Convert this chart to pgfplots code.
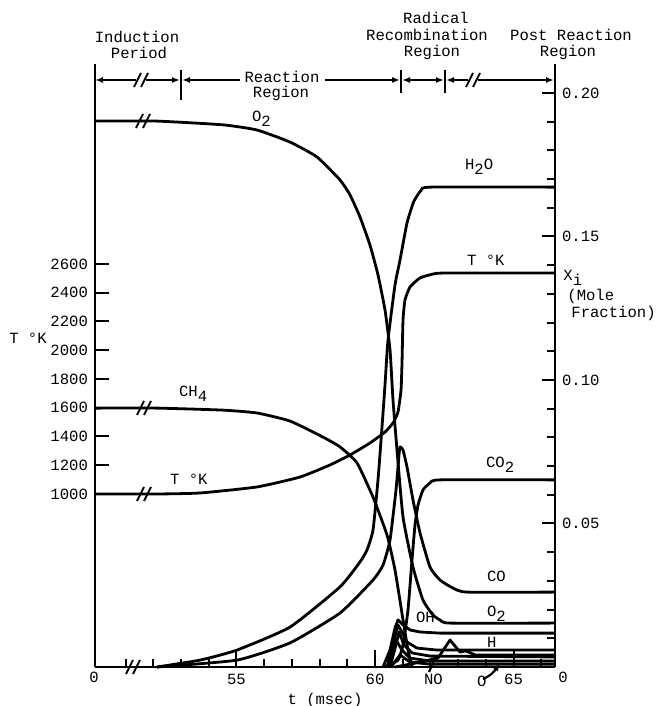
\documentclass[border=0pt]{standalone}
\usepackage{pgfplots}
\pgfplotsset{compat=1.18}
\usepackage{fontspec}
\setmainfont{Liberation Mono}
\usetikzlibrary{arrows.meta}
\newcommand{\lf}{\fontsize{7.8}{9}\selectfont}
\newcommand{\sub}[1]{\raisebox{-0.6ex}{#1}}
\begin{document}
\begin{tikzpicture}
\useasboundingbox (-47.5pt,-19.5pt) rectangle (282.5pt,333.5pt);
\pgfplotsset{
  common/.style={at={(0pt,0pt)}, anchor=south west, scale only axis,
    width=230pt, height=301.5pt, xmin=49.892, xmax=66.498, clip=false,
    axis line style={-, line width=1pt}, tick style={line width=1pt, black},
    tick align=inside, tick label style={font=\lf},
    /pgf/number format/assume math mode=true},
  curve/.style={black, line width=1.4pt, no marks, line join=round}
}
% time axis
\begin{axis}[common, ymin=0, ymax=1, axis x line*=bottom, axis y line=none,
  xtick={55,60,65}, minor xtick={51,52,...,66},
  major tick length=8.5pt, minor tick length=4pt]
\end{axis}
% temperature axis
\begin{axis}[common, ymin=-203.5, ymax=3991.3, axis y line*=left, axis x line=none,
  ytick={1000,1200,...,2600}, major tick length=7pt,
  yticklabel style={/pgf/number format/1000 sep={}}]
\addplot[curve, smooth, tension=0.3] coordinates {
(49.892,1000) (52.130,1000) (53.682,1007) (55.740,1049) (57.292,1118)
(58.375,1202) (59.097,1271) (59.819,1355) (60.361,1431) (60.650,1494)
(60.830,1570) (60.939,1723) (60.975,1911) (61.011,2210) (61.083,2350)
(61.264,2440) (61.625,2503) (62.094,2530) (62.527,2537) (66.498,2537)};
\end{axis}
% mole fraction axis
\begin{axis}[common, ymin=0, ymax=0.2101, axis y line*=right, axis x line=none,
  ytick={0.05,0.10,0.15,0.20},
  minor ytick={0.01,0.02,0.03,0.04,0.06,0.07,0.08,0.09,0.11,0.12,0.13,0.14,0.16,0.17,0.18,0.19},
  major tick length=6.5pt, minor tick length=4pt,
  yticklabel style={/pgf/number format/.cd, fixed, fixed zerofill, precision=2}]
% O2
\addplot[curve, smooth, tension=0.3] coordinates {
(49.892,0.1902) (52.130,0.1902) (54.513,0.1889) (55.740,0.1871) (56.931,0.1829)
(57.906,0.1777) (58.736,0.1697) (59.097,0.1645) (59.458,0.1568) (59.819,0.1470)
(60.108,0.1366) (60.361,0.1244) (60.542,0.1105) (60.650,0.0930) (60.794,0.0756)
(61.011,0.0523) (61.372,0.0348) (61.733,0.0233) (62.094,0.0181) (62.347,0.0164)
(62.708,0.0153) (66.498,0.0153)};
% CH4
\addplot[curve, smooth, tension=0.3] coordinates {
(49.892,0.0902) (52.130,0.0902) (54.513,0.0895) (55.740,0.0885) (56.931,0.0857)
(58.123,0.0801) (58.736,0.0767) (59.350,0.0711) (59.928,0.0592) (60.433,0.0460)
(60.722,0.0338) (61.011,0.0164) (61.191,0.0059) (61.336,0.0)};
% H2O
\addplot[curve, smooth, tension=0.3] coordinates {
(52.130,0.0) (53.682,0.0024) (55.018,0.0059) (56.931,0.0139) (58.736,0.0279)
(59.458,0.0366) (59.711,0.0408) (59.928,0.0477) (60.108,0.0652) (60.253,0.0836)
(60.361,0.0983) (60.469,0.1139) (60.722,0.1331) (60.903,0.1418) (61.155,0.1547)
(61.400,0.1622) (61.661,0.1660) (62.000,0.1672) (66.498,0.1672)};
% CO
\addplot[curve, smooth, tension=0.3] coordinates {
(52.130,0.0) (55.018,0.0024) (56.931,0.0084) (58.736,0.0188) (59.928,0.0303)
(60.289,0.0355) (60.542,0.0443) (60.758,0.0617) (60.866,0.0739) (60.903,0.0767)
(61.011,0.0756) (61.155,0.0697) (61.372,0.0582) (61.625,0.0467) (61.986,0.0348)
(62.347,0.0303) (62.816,0.0275) (63.321,0.0261) (66.498,0.0261)};
% CO2
\addplot[curve, smooth, tension=0.3] coordinates {
(60.361,0.0) (60.830,0.0024) (61.011,0.0077) (61.191,0.0199) (61.336,0.0373)
(61.444,0.0495) (61.552,0.0564) (61.733,0.0617) (61.986,0.0641) (62.347,0.0652)
(66.498,0.0652)};
% OH
\addplot[curve] coordinates {
(60.289,0.0) (60.542,0.0059) (60.722,0.0136) (60.830,0.0164) (60.975,0.0150)
(61.264,0.0129) (61.625,0.0122) (62.347,0.0118) (66.498,0.0118)};
% H
\addplot[curve] coordinates {
(60.433,0.0) (60.686,0.0094) (60.830,0.0146) (60.975,0.0122) (61.155,0.0087)
(61.516,0.0066) (62.238,0.0059) (66.498,0.0059)};
% O
\addplot[curve] coordinates {
(60.542,0.0) (60.758,0.0077) (60.866,0.0122) (61.047,0.0077) (61.336,0.0049)
(61.986,0.0038) (66.498,0.0035)};
% NO
\addplot[curve] coordinates {
(60.722,0.0) (61.264,0.0010) (61.805,0.0021) (62.274,0.0031) (62.708,0.0094)
(63.069,0.0052) (63.285,0.0056) (63.610,0.0042) (66.498,0.0042)};
% minor species
\addplot[curve] coordinates {
(60.469,0.0) (60.758,0.0094) (60.975,0.0059) (61.264,0.0031) (61.986,0.0021) (66.498,0.0021)};
\addplot[curve] coordinates {
(60.578,0.0) (60.903,0.0042) (61.264,0.0017) (61.986,0.0010) (66.498,0.0010)};
\end{axis}
% annotations in reference pixel units
\begin{scope}[x=0.5pt, y=-0.5pt, shift={(-47.5pt,333.5pt)}, font=\lf]
\tikzset{arr/.style={line width=1pt, arrows={-Latex[length=4pt,width=3pt]}},
  brk/.style={line width=0.9pt}}
% region bracket
\draw[line width=1pt, {Latex[length=4pt,width=3pt]}-] (95,80) -- (136,80);
\draw[brk] (134,87) -- (141,73) (141,87) -- (148,73);
\draw[arr] (146,80) -- (180,80);
\draw[line width=1pt] (181,70) -- (181,100);
\draw[line width=1pt, {Latex[length=4pt,width=3pt]}-] (182,80) -- (240,80);
\draw[arr] (325,80) -- (400,80);
\draw[line width=1pt] (401,70) -- (401,93);
\draw[line width=1pt, {Latex[length=4pt,width=3pt]}-{Latex[length=4pt,width=3pt]}] (402,80) -- (444,80);
\draw[line width=1pt] (445,70) -- (445,93);
\draw[line width=1pt, {Latex[length=4pt,width=3pt]}-] (446,80) -- (468,80);
\draw[brk] (466,87) -- (473,73) (473,87) -- (480,73);
\draw[arr] (478,80) -- (554,80);
% region names
\node at (137,37) {Induction};
\node at (139,53) {Period};
\node at (282,77) {Reaction};
\node at (281,93) {Region};
\node at (436,18) {Radical};
\node at (427,35) {Recombination};
\node at (432,52) {Region};
\node at (571,35) {Post Reaction};
\node at (568,52) {Region};
% axis titles
\node at (28,338) {T °K};
\node[anchor=base west, inner sep=0pt] at (563,281) {X\sub{i}};
\node[anchor=base west, inner sep=0pt] at (567,301) {(Mole};
\node[anchor=base west, inner sep=0pt] at (571,318) {Fraction)};
\node at (325,700) {t (msec)};
\node at (94,677) {0};
\node at (563,677) {0};
% breaks on curves and axis
\draw[brk] (136,128) -- (143,114) (143,128) -- (150,114);
\draw[brk] (137,415) -- (144,401) (144,415) -- (151,401);
\draw[brk] (137,501) -- (144,487) (144,501) -- (151,487);
\draw[brk] (126,674) -- (133,660) (133,674) -- (140,660);
% curve labels
\node[anchor=base west] at (245,122) {O\sub{2}};
\node[anchor=base west] at (172,397) {CH\sub{4}};
\node[anchor=base west] at (163,485) {T °K};
\node[anchor=base west] at (458,170) {H\sub{2}O};
\node[anchor=base west] at (460,266) {T °K};
\node[anchor=base west] at (479,468) {CO\sub{2}};
\node[anchor=base west] at (480,582) {CO};
\node[anchor=base west] at (480,617) {O\sub{2}};
\node[anchor=base west] at (409,623) {OH};
\node[anchor=base west] at (480,648) {H};
\node[anchor=base west] at (417,685) {NO};
\node[anchor=base west] at (470,686) {O};
\draw[line width=1.1pt] (429,672) -- (436,656);
\draw[line width=1.1pt, arrows={-Latex[length=4pt,width=3pt]}] (483,679) .. controls (490,676) and (494,672) .. (500,663);
\end{scope}
\end{tikzpicture}
\end{document}
